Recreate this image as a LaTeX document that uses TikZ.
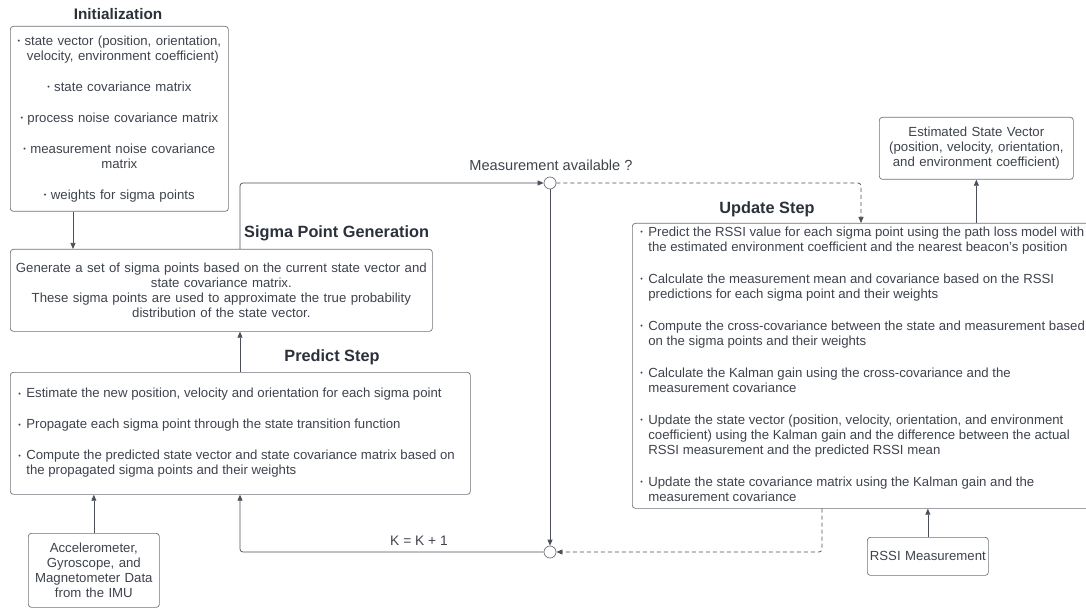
\documentclass[tikz,border=0pt]{standalone}
\usepackage{fontspec}
\setmainfont{Liberation Sans}
\usetikzlibrary{arrows.meta,calc}

\definecolor{txt}{HTML}{3E434C}
\definecolor{ttl}{HTML}{2B313B}
\definecolor{edge}{HTML}{6E727A}
\definecolor{wire}{HTML}{4A4F58}

% small grey bullet used in the lists
\newcommand{\dotb}{\raisebox{0.25ex}{\scalebox{0.55}{\textbullet}}}
% one list item: bullet, then its lines stacked flush left
\newcommand{\litem}[1]{\par\noindent\makebox[8pt][l]{\dotb}%
  \begin{tabular}[t]{@{}l@{}}#1\end{tabular}\par}
\newcommand{\gap}{\vspace{16pt}}

\begin{document}
\begin{tikzpicture}[x=1pt,y=-1pt,
  box/.style={draw=edge, line width=0.7pt, rounded corners=3pt, fill=white,
    text=txt, font=\fontsize{13.2}{15}\selectfont, inner sep=0pt, anchor=north west},
  title/.style={text=ttl, font=\fontsize{16.3}{18}\selectfont\bfseries, inner sep=0pt},
  lbl/.style={text=txt, inner sep=0pt},
  joint/.style={circle, draw=edge, fill=white, line width=0.7pt, minimum size=12pt, inner sep=0pt},
  wire/.style={draw=wire, line width=0.7pt, rounded corners=3pt},
  arr/.style={wire, -{Triangle[length=6pt,width=5pt]}},
  darr/.style={arr, dash pattern=on 4pt off 3pt},
]
\useasboundingbox (0,0) rectangle (1086,609);

% ---------------- boxes ----------------
\node[box, minimum width=218pt, minimum height=185pt, text width=218pt, align=center] (init) at (10,26)
  {\dotb\ state vector (position, orientation,\\
   \hphantom{\dotb\ }velocity, environment coefficient)\\[16pt]
   \dotb\ state covariance matrix\\[16pt]
   \dotb\ process noise covariance matrix\\[16pt]
   \dotb\ measurement noise covariance\\ matrix\\[16pt]
   \dotb\ weights for sigma points};
\node[title, font=\fontsize{15.3}{18}\selectfont\bfseries] (initT) at (118,14) {Initialization};

\node[box, minimum width=422pt, minimum height=82pt, text width=422pt, align=center] (sigma) at (10,249)
  {Generate a set of sigma points based on the current state vector and\\
   state covariance matrix.\\
   These sigma points are used to approximate the true probability\\
   distribution of the state vector.};
\node[title, anchor=west] (sigmaT) at (244,233) {Sigma Point Generation};

\node[box, minimum width=460pt, minimum height=122pt] (predict) at (10,372)
  {\begin{minipage}{444pt}\raggedright\hfuzz=60pt
   \litem{Estimate the new position, velocity and orientation for each sigma point}\gap
   \litem{Propagate each sigma point through the state transition function}\gap
   \litem{Compute the predicted state vector and state covariance matrix based on\\
          the propagated sigma points and their weights}
   \end{minipage}};
\node[title] (predictT) at (332,357) {Predict Step};

\node[box, minimum width=131pt, minimum height=74pt, text width=131pt, align=center] (imu) at (28,533)
  {Accelerometer,\\ Gyroscope, and\\ Magnetometer Data\\ from the IMU};

% the right edge of this box runs past the page and is cut off
\node[box, minimum width=460pt, minimum height=285pt] (update) at (632,223)
  {\begin{minipage}{444pt}\raggedright\hfuzz=60pt
   \litem{Predict the RSSI value for each sigma point using the path loss model with\\
          the estimated environment coefficient and the nearest beacon's position}\gap
   \litem{Calculate the measurement mean and covariance based on the RSSI\\
          predictions for each sigma point and their weights}\gap
   \litem{Compute the cross-covariance between the state and measurement based\\
          on the sigma points and their weights}\gap
   \litem{Calculate the Kalman gain using the cross-covariance and the\\
          measurement covariance}\gap
   \litem{Update the state vector (position, velocity, orientation, and environment\\
          coefficient) using the Kalman gain and the difference between the actual\\
          RSSI measurement and the predicted RSSI mean}\gap
   \litem{Update the state covariance matrix using the Kalman gain and the\\
          measurement covariance}
   \end{minipage}};
\node[title] (updateT) at (767,209) {Update Step};

\node[box, minimum width=194pt, minimum height=62pt, text width=194pt, align=center] (est) at (879,117)
  {Estimated State Vector\\ (position, velocity, orientation,\\ and environment coefficient)};

\node[box, minimum width=121pt, minimum height=38pt, text width=121pt, align=center] (rssi) at (867,537)
  {RSSI Measurement};

% ---------------- junctions and labels ----------------
\node[joint] (m1) at (550,183) {};
\node[joint] (m2) at (550,552) {};
\node[lbl, font=\fontsize{14.6}{16}\selectfont] (mlab) at (551,165) {Measurement available ?};
\node[lbl, font=\fontsize{13.8}{16}\selectfont] (klab) at (419,541) {K = K + 1};

% reference columns for the connectors
\coordinate (cA) at (73,0);
\coordinate (cB) at (240,0);
\coordinate (cC) at (861,0);
\coordinate (cD) at (822,0);

% ---------------- connectors ----------------
\draw[arr] (cA |- init.south) -- (cA |- sigma.north);
\draw[arr] (cB |- predict.north) -- (cB |- sigma.south);
\draw[arr] (cB |- sigma.north) |- (m1.west);
\draw[darr] (m1.east) -| (cC |- update.north);
\draw[arr] (m1.south) -- (m2.north);
\draw[darr] (cD |- update.south) |- (m2.east);
\draw[arr] (m2.west) -| (cB |- predict.south);
\draw[arr] (imu.north) -- (imu.north |- predict.south);
\draw[arr] (update.north -| est.south) -- (est.south);
\draw[arr] (rssi.north) -- (rssi.north |- update.south);
\end{tikzpicture}
\end{document}
